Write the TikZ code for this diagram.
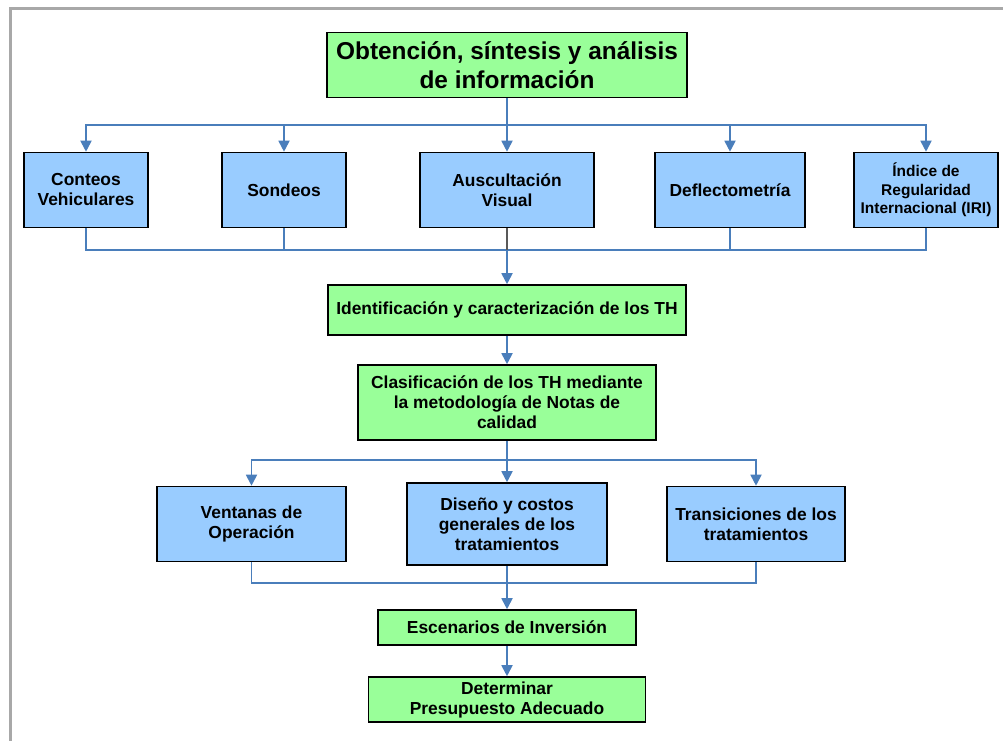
\documentclass[tikz,border=0pt]{standalone}
\usepackage{fontspec}
\setmainfont{Liberation Sans}
\usetikzlibrary{arrows.meta,positioning}
\definecolor{boxgreen}{HTML}{99FF99}
\definecolor{boxblue}{HTML}{99CCFF}
\definecolor{linkblue}{HTML}{4A7EBB}
\definecolor{framegray}{HTML}{A8A8A8}

\begin{document}
\begin{tikzpicture} [x=1pt,y=1pt,>={Triangle[length=11pt,width=11pt]},link/.style={draw=linkblue,line width=1.8pt},green node/.style={rectangle,draw=black,fill=boxgreen,line width=1.6pt,align=center,inner sep=2pt,font=\bfseries\fontsize{17.4}{20}\selectfont},blue node/.style={green node,fill=boxblue,minimum height=75pt}]
\useasboundingbox (0,0) rectangle (1003,-740);
\draw[framegray,line width=3pt] (10,-741) -- (10,-8) -- (1003,-8); % Frame round the page, open on the right and bottom

\node[green node,minimum width=360pt,minimum height=65pt,font=\bfseries\fontsize{24.4}{29}\selectfont] (1) at (507,-65) {Obtención, síntesis y análisis\\de información}; % Creates the top node (1)
\node[blue node,minimum width=174pt] (4) [below=53.4pt of 1] {Auscultación\\Visual}; % Middle of the first row
\node[blue node,minimum width=124pt] (3) [left=72.4pt of 4] {Sondeos};
\node[blue node,minimum width=124pt] (2) [left=72.4pt of 3] {Conteos\\Vehiculares};
\node[blue node,minimum width=150pt] (5) [right=59.4pt of 4] {Deflectometría};
\node[blue node,minimum width=144pt,font=\bfseries\fontsize{15.5}{18.5}\selectfont] (6) [right=47.4pt of 5] {Índice de\\Regularidad\\Internacional (IRI)};
\node[green node,minimum width=358pt,minimum height=50pt] (7) [below=55.9pt of 4] {Identificación y caracterización de los TH};
\node[green node,minimum width=298pt,minimum height=75pt] (8) [below=28.4pt of 7] {Clasificación de los TH mediante\\la metodología de Notas de\\calidad};
\node[blue node,minimum width=200pt,minimum height=82pt] (10) [below=41.4pt of 8] {Diseño y costos\\generales de los\\tratamientos}; % Middle of the second row
\node[blue node,minimum width=189pt] (9) [left=59.4pt of 10] {Ventanas de\\Operación};
\node[blue node,minimum width=178pt] (11) [right=58.4pt of 10] {Transiciones de los\\tratamientos};
\node[green node,minimum width=258pt,minimum height=35pt] (12) [below=43.4pt of 10] {Escenarios de Inversión};
\node[green node,minimum width=277pt,minimum height=45pt] (13) [below=30.4pt of 12] {Determinar\\Presupuesto Adecuado};

\coordinate (s1) at (507,-125); % Where the first row splits
\coordinate (j1) at (507,-250); % Where the first row joins again
\coordinate (s2) at (507,-460);
\coordinate (j2) at (507,-583);

\draw[link] (1) -- (s1);
\foreach \n in {2,...,6} \draw[link,->] (s1) -| (\n); % One arrow down to each box of the row
\foreach \n in {2,3,5,6} \draw[link] (\n) |- (j1);
\draw[link,draw=gray!70!black] (4) -- (j1);
\draw[link,->] (j1) -- (7);
\draw[link,->] (7) -- (8);
\draw[link] (8) -- (s2);
\foreach \n in {9,10,11} \draw[link,->] (s2) -| (\n);
\foreach \n in {9,10,11} \draw[link] (\n) |- (j2);
\draw[link,->] (j2) -- (12);
\draw[link,->] (12) -- (13);
\end{tikzpicture}
\end{document}
